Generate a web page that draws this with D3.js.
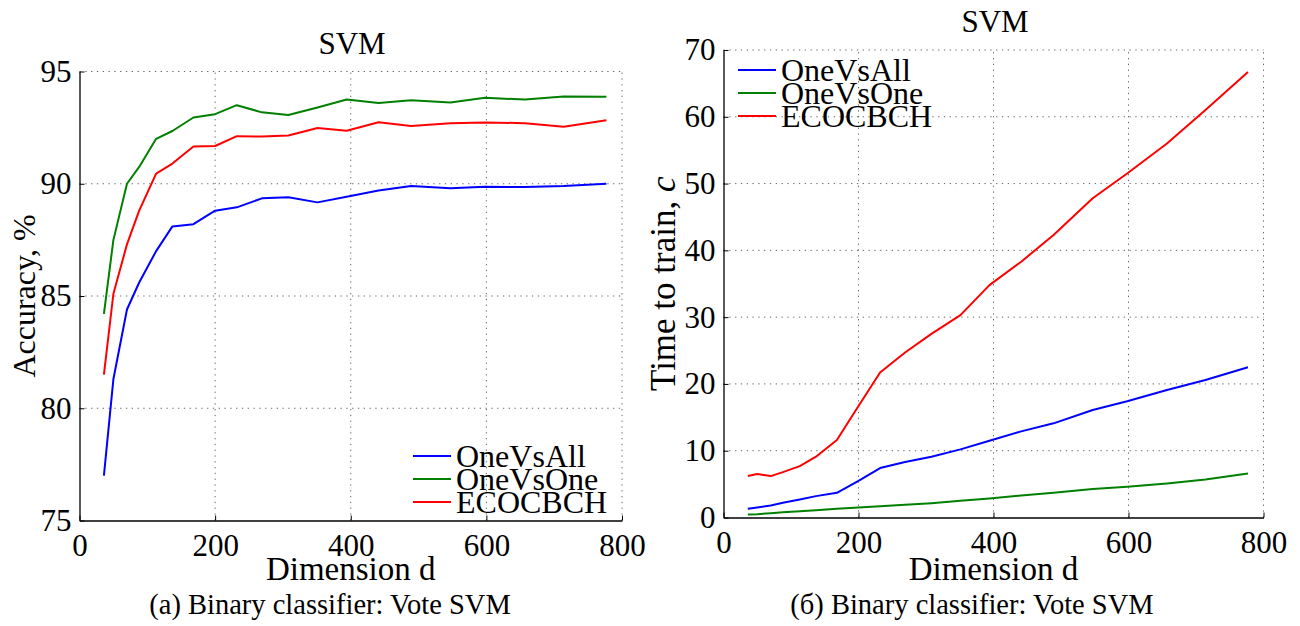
<!DOCTYPE html>
<html>
<head>
<meta charset="utf-8">
<script src="https://cdn.jsdelivr.net/npm/d3@7"></script>
<style>
  body { margin: 0; background: #fff; }
  svg text { font-family: "Times New Roman", "Liberation Serif", Tinos, "DejaVu Serif", "Noto Serif", FreeSerif, serif; fill: #000; }
</style>
</head>
<body>
<svg width="1300" height="626"></svg>
<script>
// dimension values (same for both panels)
let dims = [36, 50, 70, 88, 113, 137, 168, 200, 232, 269, 308, 351, 394, 441, 489, 547, 598, 657, 714, 777];

let seriesNames = ["OneVsAll", "OneVsOne", "ECOCBCH"];
let seriesColors = ["#0000ff", "#008000", "#ff0000"];

// panel (a): accuracy, %
let accOneVsAll = [77.0, 81.3, 84.4, 85.6, 87.0, 88.1, 88.2, 88.8, 88.95, 89.35, 89.4, 89.17, 89.42, 89.7, 89.9, 89.8, 89.87, 89.85, 89.9, 90.0];
let accOneVsOne = [84.2, 87.5, 90.0, 90.75, 92.0, 92.35, 92.95, 93.1, 93.5, 93.18, 93.06, 93.4, 93.75, 93.6, 93.72, 93.62, 93.83, 93.75, 93.89, 93.87];
let accEcoc = [81.5, 85.1, 87.3, 88.8, 90.45, 90.9, 91.66, 91.68, 92.12, 92.1, 92.15, 92.48, 92.36, 92.74, 92.57, 92.7, 92.73, 92.7, 92.54, 92.83];

// panel (б): time to train
let timeOneVsAll = [1.3, 1.5, 1.8, 2.2, 2.7, 3.2, 3.7, 5.5, 7.4, 8.3, 9.1, 10.2, 11.5, 12.9, 14.1, 16.1, 17.4, 19.1, 20.6, 22.5];
let timeOneVsOne = [0.45, 0.5, 0.65, 0.8, 0.95, 1.1, 1.3, 1.5, 1.7, 1.9, 2.15, 2.5, 2.85, 3.3, 3.7, 4.25, 4.6, 5.1, 5.7, 6.6];
let timeEcoc = [6.2, 6.5, 6.2, 6.8, 7.7, 9.1, 11.6, 16.7, 21.7, 24.7, 27.5, 30.3, 34.8, 38.3, 42.3, 47.8, 51.5, 56.0, 61.0, 66.7];

let xTicks = [0, 200, 400, 600, 800];
let accTicks = [75, 80, 85, 90, 95];
let timeTicks = [0, 10, 20, 30, 40, 50, 60, 70];

let serif = '"Times New Roman", "Liberation Serif", Tinos, "DejaVu Serif", "Noto Serif", FreeSerif, serif';

let svg = d3.select("svg");

function drawPanel(opt) {
  let g = svg.append("g");
  let x = d3.scaleLinear().domain([0, 800]).range([opt.left, opt.right]);
  let y = d3.scaleLinear().domain(opt.yDomain).range([opt.bottom, opt.top]);

  // dotted grid
  g.append("g")
    .selectAll("line")
    .data(opt.yTicks.slice(1))
    .enter()
    .append("line")
    .attr("x1", opt.left)
    .attr("x2", opt.right)
    .attr("y1", (d) => y(d))
    .attr("y2", (d) => y(d))
    .attr("stroke", "#666")
    .attr("stroke-width", 1)
    .attr("stroke-dasharray", "1.3,4.5");

  g.append("g")
    .selectAll("line")
    .data(xTicks.slice(1))
    .enter()
    .append("line")
    .attr("x1", (d) => x(d))
    .attr("x2", (d) => x(d))
    .attr("y1", opt.bottom)
    .attr("y2", opt.top)
    .attr("stroke", "#666")
    .attr("stroke-width", 1)
    .attr("stroke-dasharray", "1.3,4.5");

  // axes
  let xAxis = d3.axisBottom(x).tickValues(xTicks).tickSizeInner(-5).tickSizeOuter(0).tickPadding(13);
  let yAxis = d3.axisLeft(y).tickValues(opt.yTicks).tickSizeInner(-5).tickSizeOuter(0).tickPadding(8);

  let gx = g.append("g").attr("transform", `translate(0,${opt.bottom})`).call(xAxis);
  let gy = g.append("g").attr("transform", `translate(${opt.left},0)`).call(yAxis);
  [gx, gy].forEach((a) => {
    a.attr("font-family", serif).attr("font-size", 31);
    a.select(".domain").attr("stroke", "#000").attr("stroke-width", 1.3);
    a.selectAll(".tick line").attr("stroke", "#000");
    a.selectAll("text").attr("fill", "#000");
  });
  gx.selectAll("text").attr("dy", "0.71em");

  // lines
  let line = d3
    .line()
    .x((d, i) => x(dims[i]))
    .y((d) => y(d));

  opt.series.forEach((s, i) => {
    g.append("path")
      .datum(s)
      .attr("d", line)
      .attr("fill", "none")
      .attr("stroke", seriesColors[i])
      .attr("stroke-width", 2)
      .attr("stroke-linejoin", "round");
  });

  // title, labels, caption
  g.append("text")
    .attr("x", opt.titleX)
    .attr("y", opt.titleY)
    .attr("text-anchor", "middle")
    .attr("font-size", 31)
    .text("SVM");

  g.append("text")
    .attr("x", (opt.left + opt.right) / 2)
    .attr("y", 580)
    .attr("text-anchor", "middle")
    .attr("font-size", 33)
    .text("Dimension d");

  let yl = g.append("text")
    .attr("transform", `translate(${opt.yLabelX},${(opt.top + opt.bottom) / 2}) rotate(-90)`)
    .attr("text-anchor", "middle")
    .attr("font-size", opt.yLabelSize);
  yl.append("tspan").text(opt.yLabel);
  if (opt.yLabelItalic) {
    yl.append("tspan").attr("font-style", "italic").text(opt.yLabelItalic);
  }

  g.append("text")
    .attr("x", opt.captionX)
    .attr("y", 614)
    .attr("text-anchor", "middle")
    .attr("font-size", 28.5)
    .text(opt.caption);

  // legend
  let leg = g.append("g");
  seriesNames.forEach((name, i) => {
    let ly = opt.legendY + i * 23;
    leg.append("line")
      .attr("x1", opt.legendX)
      .attr("x2", opt.legendX + 38)
      .attr("y1", ly)
      .attr("y2", ly)
      .attr("stroke", seriesColors[i])
      .attr("stroke-width", 2);
    leg.append("text")
      .attr("x", opt.legendX + 43)
      .attr("y", ly + 11)
      .attr("font-size", 32)
      .text(name);
  });
}

drawPanel({
  left: 79.5,
  right: 622,
  top: 71.5,
  bottom: 520.5,
  yDomain: [75, 95],
  yTicks: accTicks,
  series: [accOneVsAll, accOneVsOne, accEcoc],
  titleX: 352,
  titleY: 54,
  yLabel: "Accuracy, %",
  yLabelSize: 32,
  yLabelX: 35,
  caption: "(a) Binary classifier: Vote SVM",
  captionX: 330,
  legendX: 413,
  legendY: 456,
});

drawPanel({
  left: 723.5,
  right: 1263.5,
  top: 50,
  bottom: 517.5,
  yDomain: [0, 70],
  yTicks: timeTicks,
  series: [timeOneVsAll, timeOneVsOne, timeEcoc],
  titleX: 995,
  titleY: 32,
  yLabel: "Time to train, ",
  yLabelItalic: "c",
  yLabelSize: 35,
  yLabelX: 675,
  caption: "(б) Binary classifier: Vote SVM",
  captionX: 972,
  legendX: 738,
  legendY: 70,
});
</script>
</body>
</html>
